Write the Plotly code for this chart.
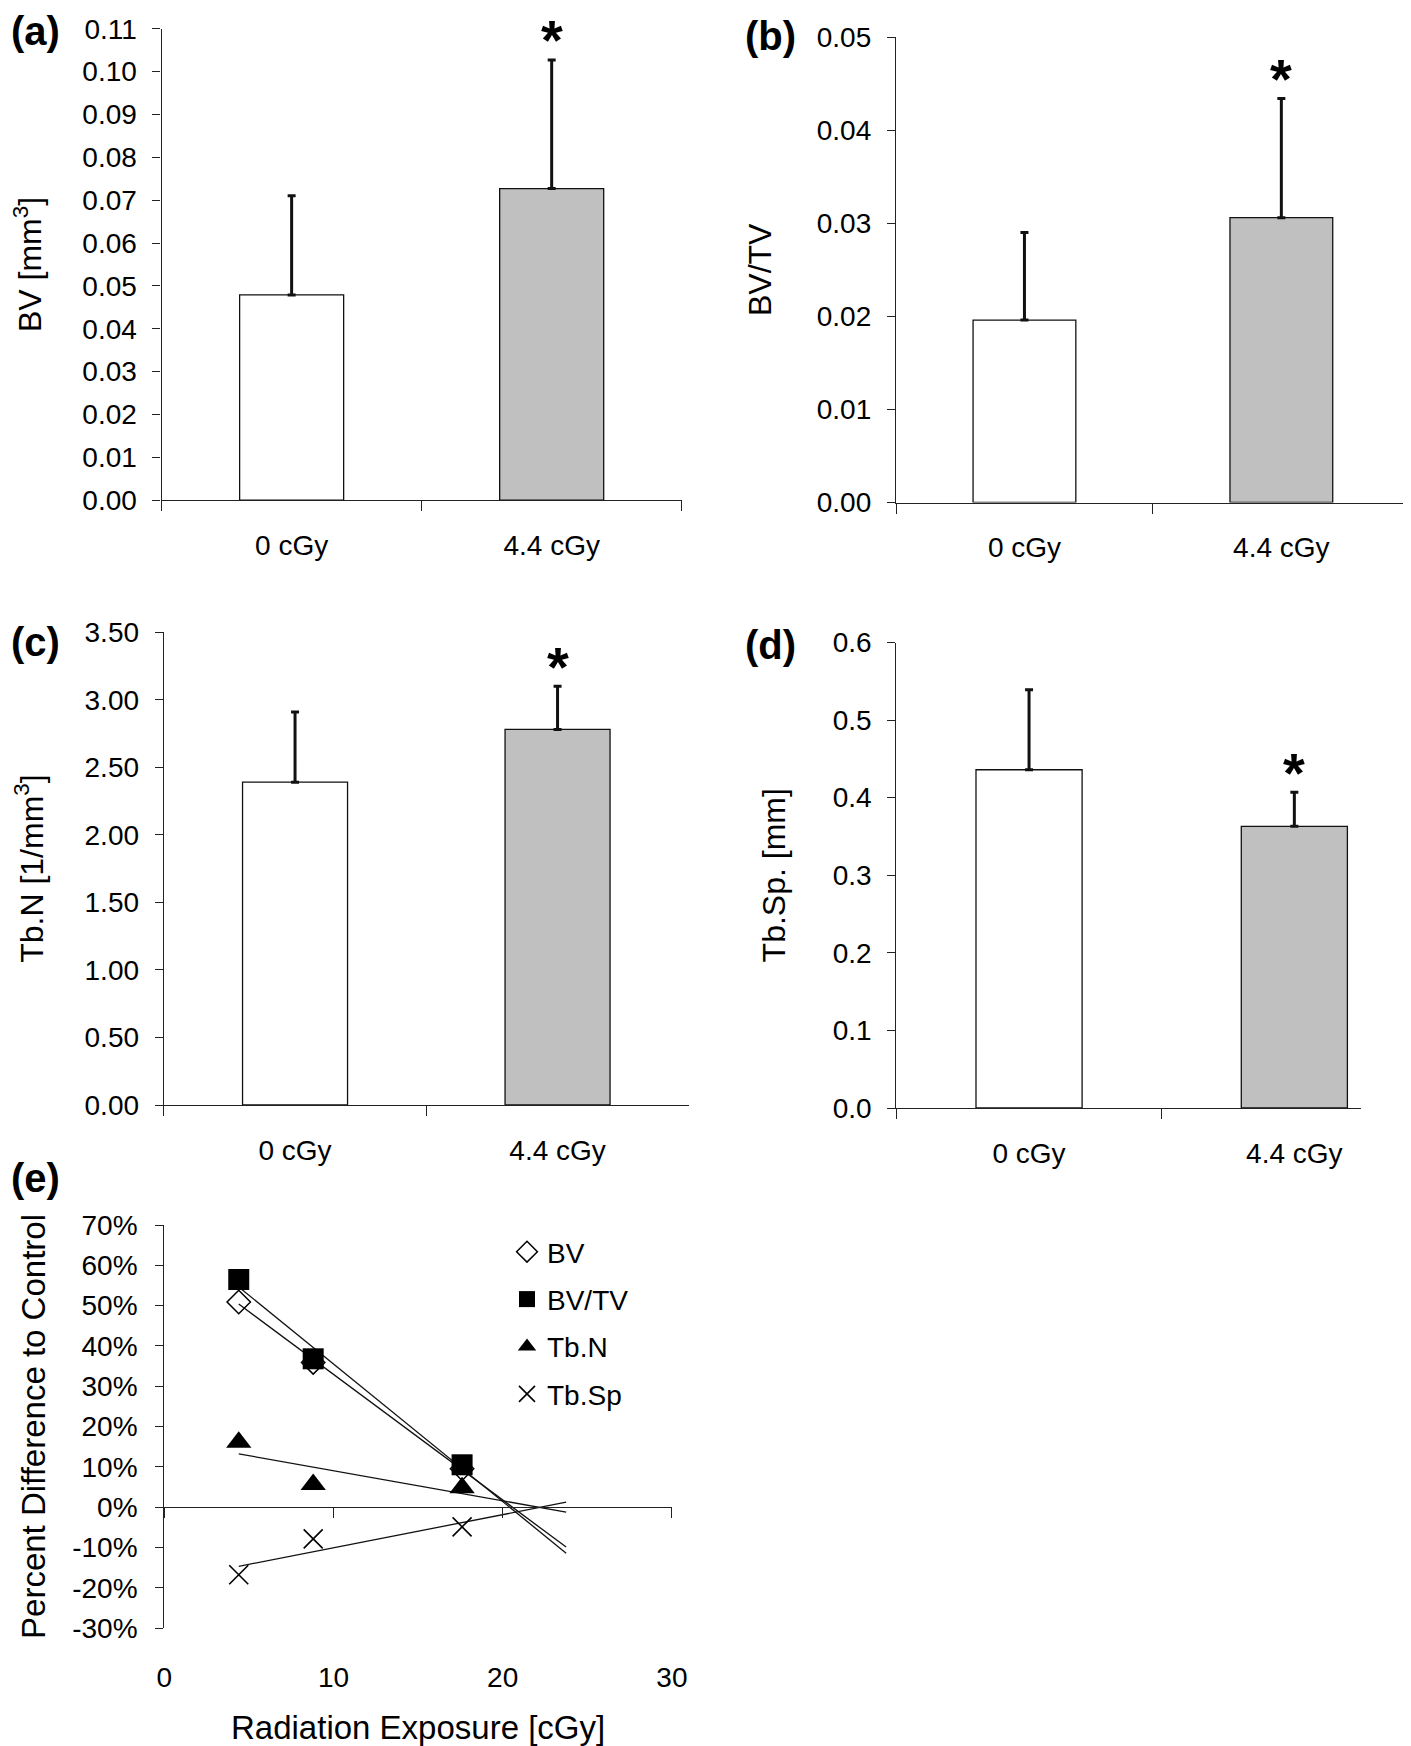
import numpy as np
import plotly.graph_objects as go

W, H = 1411, 1746
PAGE_MARGIN = 8  # default <body> margin of the html page
FW, FH = W - PAGE_MARGIN, H - PAGE_MARGIN
FONT = "Liberation Sans, Arial, Helvetica, sans-serif"
AXIS_COLOR = "#222222"

# ---- data -------------------------------------------------------------
doses = ["0 cGy", "4.4 cGy"]
bar_fill = ["#ffffff", "#c0c0c0"]
significant = [False, True]

bv_mean = [0.0479, 0.0727]
bv_sd = [0.0231, 0.0300]
bvtv_mean = [0.0196, 0.0306]
bvtv_sd = [0.0094, 0.0128]
tbn_mean = [2.39, 2.78]
tbn_sd = [0.52, 0.32]
tbsp_mean = [0.436, 0.363]
tbsp_sd = [0.103, 0.044]

exposure = [4.4, 8.8, 17.6]
pct_bv = [50.9, 35.9, 9.5]
pct_bvtv = [56.5, 36.8, 10.5]
pct_tbn = [16.1, 5.6, 4.8]
pct_tbsp = [-16.8, -7.9, -4.9]
trend_end = 23.75
pct_ticks = [-30, -20, -10, 0, 10, 20, 30, 40, 50, 60, 70]
pct_ticktext = [f"{v}%" for v in pct_ticks]


def xdom(left, right):
    return [(left - PAGE_MARGIN) / FW, (right - PAGE_MARGIN) / FW]


def ydom(top, bottom):
    return [1 - (bottom - PAGE_MARGIN) / FH, 1 - (top - PAGE_MARGIN) / FH]


def px(x, y):
    return (x - PAGE_MARGIN) / FW, 1 - (y - PAGE_MARGIN) / FH


fig = go.Figure()

# ---- bar panels (a)-(d) -------------------------------------------------
panels = [
    ("", bv_mean, bv_sd, "BV [mm<sup>3</sup>]", [0, 0.11], 0.01, ".2f",
     (161.6, 681.7), (28.7, 500.2), "(a)", (9, 31), 1.5, 34),
    ("2", bvtv_mean, bvtv_sd, "BV/TV", [0, 0.05], 0.01, ".2f",
     (896, 1409.8), (37.1, 502.5), "(b)", (743, 36), 1.5, 35),
    ("3", tbn_mean, tbn_sd, "Tb.N [1/mm<sup>3</sup>]", [0, 3.5], 0.5, ".2f",
     (163.8, 688.8), (632.2, 1105), "(c)", (9, 642), 1.5, 31),
    ("4", tbsp_mean, tbsp_sd, "Tb.Sp. [mm]", [0, 0.6], 0.1, ".1f",
     (896.4, 1361.2), (642.5, 1108), "(d)", (743, 645), 1.252, 37),
]

annotations = []
for sfx, mean, sd, ytitle, yrange, dtick, fmt, xpx, ypx, label, lpos, xend, standoff in panels:
    xa, ya = "x" + sfx, "y" + sfx
    fig.add_trace(go.Bar(
        x=doses, y=mean,
        xaxis=xa, yaxis=ya,
        marker=dict(color=bar_fill, line=dict(color="#111111", width=1.3)),
        error_y=dict(type="data", symmetric=False, array=sd, arrayminus=[0] * len(sd),
                     color="#111111", thickness=3, width=4),
        showlegend=False,
    ))
    for d, m, s, sig in zip(doses, mean, sd, significant):
        if sig:
            annotations.append(dict(
                x=d, y=m + s, xref=xa, yref=ya, text="*", showarrow=False,
                yanchor="middle", yshift=20,
                font=dict(family=FONT, size=56, color="black", weight="bold"),
            ))
    lx, ly = px(*lpos)
    annotations.append(dict(
        x=lx, y=ly, xref="paper", yref="paper",
        text="<b>" + label + "</b>", showarrow=False, xanchor="left", yanchor="middle",
        font=dict(family=FONT, size=40, color="black"),
    ))
    fig.layout["xaxis" + sfx] = dict(
        domain=xdom(*xpx), anchor=ya, type="category", range=[-0.5, xend],
        showline=True, linecolor=AXIS_COLOR, linewidth=1.3,
        ticks="outside", tickson="boundaries", ticklen=10, tickcolor=AXIS_COLOR, tickwidth=1.3,
        ticklabelstandoff=20, showgrid=False, zeroline=False, automargin=False,
        tickfont=dict(family=FONT, size=28, color="black"),
    )
    fig.layout["yaxis" + sfx] = dict(
        domain=ydom(*ypx), anchor=xa, range=yrange, dtick=dtick, tickformat=fmt,
        showline=True, linecolor=AXIS_COLOR, linewidth=1.3,
        ticks="outside", ticklen=8, tickcolor=AXIS_COLOR, tickwidth=1.3,
        ticklabelstandoff=10,
        showgrid=False, zeroline=False, automargin=False,
        tickfont=dict(family=FONT, size=28, color="black"),
        title=dict(text=ytitle, standoff=standoff, font=dict(family=FONT, size=32, color="black")),
    )

# ---- panel (e) ----------------------------------------------------------
series = [
    ("BV", pct_bv, dict(symbol="diamond-open", size=18, color="black", line=dict(width=1.5))),
    ("BV/TV", pct_bvtv, dict(symbol="square", size=21, color="black")),
    ("Tb.N", pct_tbn, dict(symbol="triangle-up", size=22, color="black")),
    ("Tb.Sp", pct_tbsp, dict(symbol="x-thin-open", size=19, color="black", line=dict(width=1.6, color="black"))),
]

for name, vals, marker in series:
    slope, icpt = np.polyfit(exposure, vals, 1)
    xs = np.array([exposure[0], trend_end])
    fig.add_trace(go.Scatter(
        x=xs, y=slope * xs + icpt, mode="lines", xaxis="x5", yaxis="y5",
        line=dict(color="#111111", width=1.3), showlegend=False, hoverinfo="skip",
    ))
for name, vals, marker in series:
    fig.add_trace(go.Scatter(
        x=exposure, y=vals, mode="markers", name=name, xaxis="x5", yaxis="y5",
        marker=marker, legendgroup=name,
    ))
# empty trace so the zero-line axis (x6) gets drawn
fig.add_trace(go.Scatter(x=[], y=[], xaxis="x6", yaxis="y5", showlegend=False))

e_x, e_y = (164.3, 671.9), (1225, 1628)
e_yrange = [pct_ticks[0], pct_ticks[-1]]
e_ydom = ydom(*e_y)
zero_pos = e_ydom[0] + (0 - e_yrange[0]) / (e_yrange[1] - e_yrange[0]) * (e_ydom[1] - e_ydom[0])

fig.update_layout(
    xaxis5=dict(
        domain=xdom(*e_x), anchor="y5", range=[0, 30], dtick=10,
        showline=False, ticks="", showgrid=False, zeroline=False, ticklabelstandoff=30,
        automargin=False,
        tickfont=dict(family=FONT, size=28, color="black"),
        title=dict(text="Radiation Exposure [cGy]", standoff=23,
                   font=dict(family=FONT, size=33, color="black")),
    ),
    xaxis6=dict(
        overlaying="x5", anchor="free", position=zero_pos, range=[0, 30], dtick=10,
        showline=True, linecolor=AXIS_COLOR, linewidth=1.3,
        ticks="outside", ticklen=10, tickcolor=AXIS_COLOR, tickwidth=1.3,
        showticklabels=False, showgrid=False, zeroline=False, automargin=False,
    ),
    yaxis5=dict(
        domain=e_ydom, anchor="x5", range=e_yrange,
        tickmode="array", tickvals=pct_ticks, ticktext=pct_ticktext,
        showline=True, linecolor=AXIS_COLOR, linewidth=1.3,
        ticks="outside", ticklen=8, tickcolor=AXIS_COLOR, tickwidth=1.3,
        ticklabelstandoff=12,
        showgrid=False, zeroline=False, automargin=False,
        tickfont=dict(family=FONT, size=28, color="black"),
        title=dict(text="Percent Difference to Control", standoff=16,
                   font=dict(family=FONT, size=33, color="black")),
    ),
)
ex, ey = px(9, 1178)
annotations.append(dict(
    x=ex, y=ey, xref="paper", yref="paper", text="<b>(e)</b>",
    showarrow=False, xanchor="left", yanchor="middle",
    font=dict(family=FONT, size=40, color="black"),
))

lgx, lgy = px(507, 1227)
fig.update_layout(
    width=FW, height=FH,
    margin=dict(l=0, r=0, t=0, b=0),
    paper_bgcolor="white", plot_bgcolor="white",
    bargap=0.6,
    font=dict(family=FONT, color="black"),
    annotations=annotations,
    showlegend=True,
    legend=dict(
        x=lgx, y=lgy, xanchor="left", yanchor="top",
        bgcolor="rgba(0,0,0,0)", font=dict(family=FONT, size=28, color="black"),
        tracegroupgap=8, itemsizing="trace",
    ),
)

fig.write_html("out.html")
